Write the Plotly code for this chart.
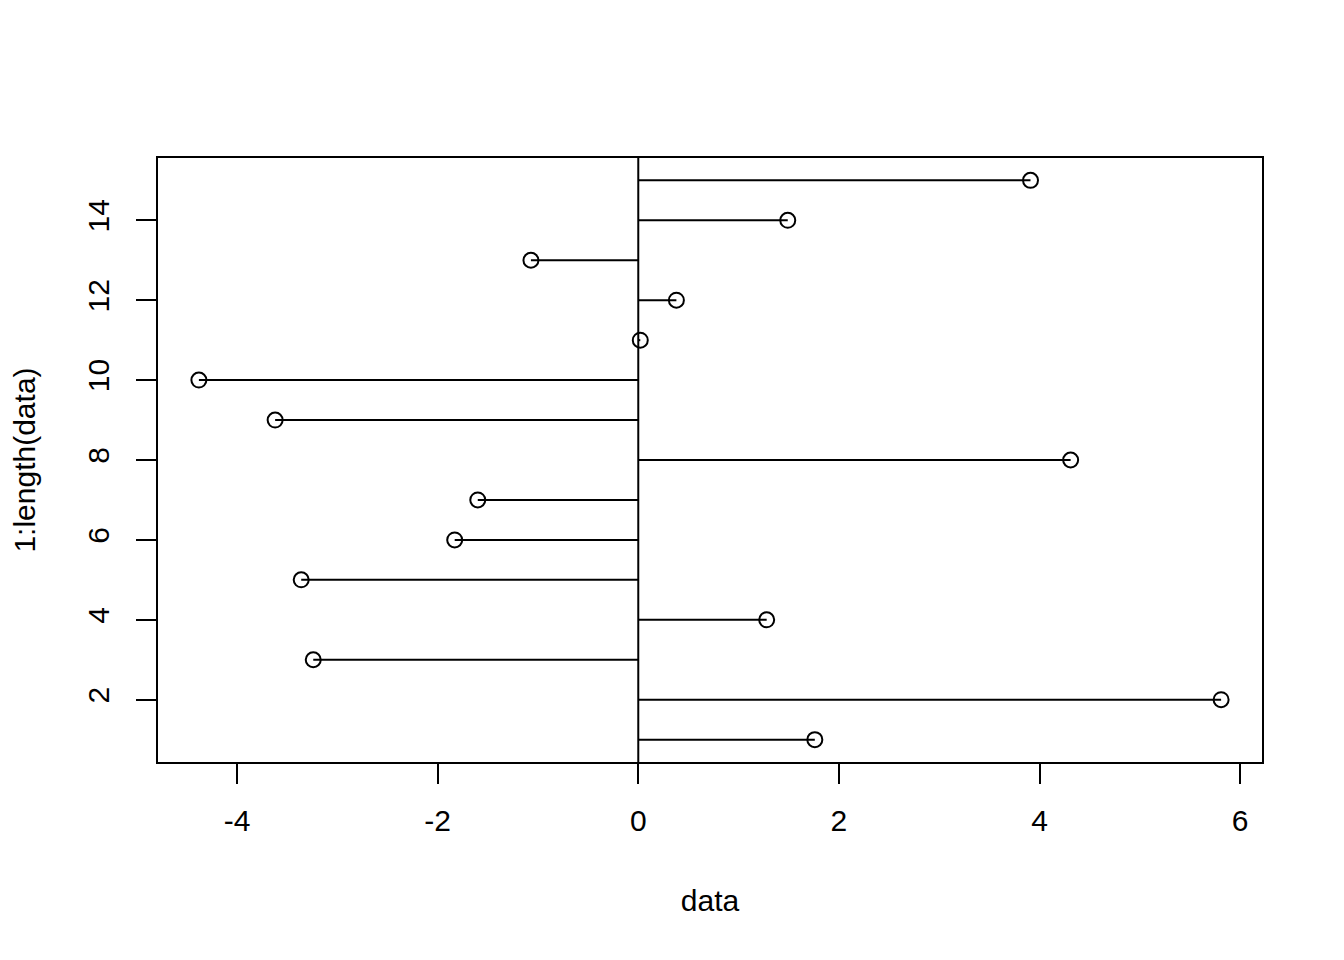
import plotly.graph_objects as go

index = list(range(1, 16))
data = [1.76, 5.81, -3.24, 1.28, -3.36, -1.83, -1.60, 4.31, -3.62, -4.38, 0.02, 0.38, -1.07, 1.49, 3.91]
x_ticks = [-4, -2, 0, 2, 4, 6]
y_ticks = [2, 4, 6, 8, 10, 12, 14]

xmin, xmax = min(data), max(data)
xr = xmax - xmin
ymin, ymax = min(index), max(index)
yr = ymax - ymin

seg_x, seg_y = [], []
for i, v in zip(index, data):
    seg_x += [0, v, None]
    seg_y += [i, i, None]

fig = go.Figure()
fig.add_trace(go.Scatter(x=seg_x, y=seg_y, mode="lines",
                         line=dict(color="black", width=2), hoverinfo="skip"))
fig.add_trace(go.Scatter(x=data, y=index, mode="markers",
                         marker=dict(symbol="circle-open", size=15, color="black",
                                     line=dict(width=2, color="black"))))
fig.add_shape(type="line", xref="x", yref="paper", x0=0, x1=0, y0=0, y1=1,
              line=dict(color="black", width=2))

font = dict(family="Liberation Sans, Arial, sans-serif", size=30, color="black")
fig.update_layout(
    width=1344, height=960, showlegend=False,
    paper_bgcolor="white", plot_bgcolor="white",
    margin=dict(l=150, r=90, t=150, b=206),
    font=font,
    xaxis=dict(range=[xmin - 0.04 * xr, xmax + 0.04 * xr], tickvals=x_ticks,
               ticktext=[str(t) for t in x_ticks],
               showgrid=False, zeroline=False, showline=True, mirror=True,
               linecolor="black", linewidth=2, ticks="outside", ticklen=20,
               tickwidth=2, tickcolor="black", tickfont=font, ticklabelstandoff=11,
               title=dict(text="data", font=font, standoff=54)),
    yaxis=dict(range=[ymin - 0.04 * yr, ymax + 0.04 * yr], tickvals=y_ticks,
               ticktext=[str(t) for t in y_ticks], tickangle=-90,
               showgrid=False, zeroline=False, showline=True, mirror=True,
               linecolor="black", linewidth=2, ticks="outside", ticklen=20,
               tickwidth=2, tickcolor="black", tickfont=font, ticklabelstandoff=15,
               title=dict(text="1:length(data)", font=font, standoff=40)),
)
fig.write_html("out.html")
